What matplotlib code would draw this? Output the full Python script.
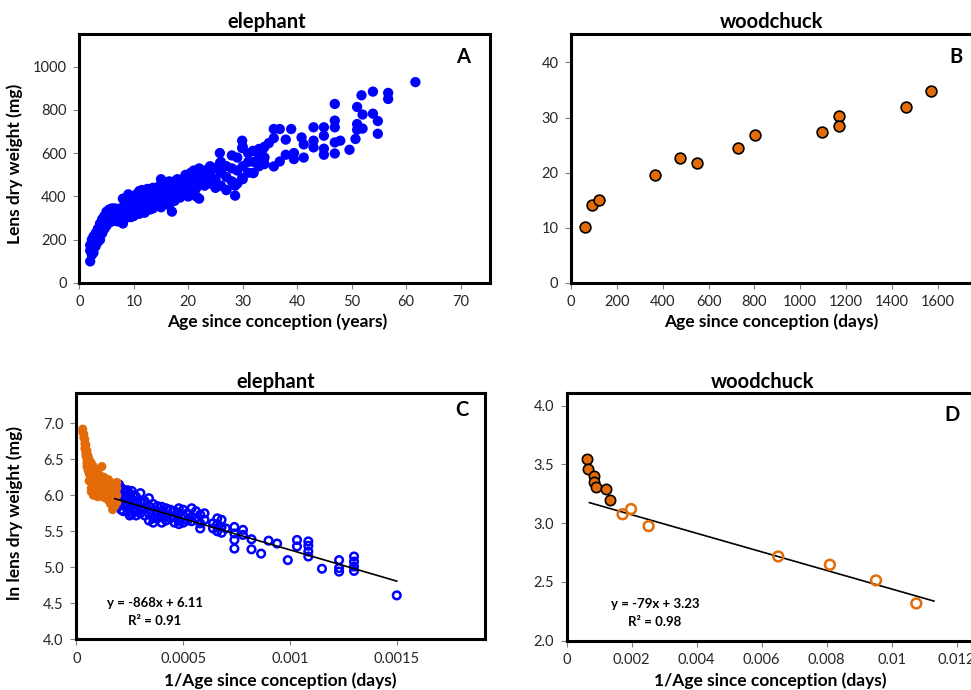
import numpy as np
import matplotlib.pyplot as plt

plt.rcParams['font.family'] = ['Lato', 'DejaVu Sans']

# ---------------- data ----------------
# A: elephant, lens dry weight (mg) vs age (years)
band_age = [2.0, 2.3, 2.6, 3.0, 3.4, 3.8, 4.2, 4.6, 5.0, 5.5, 6.0, 6.5, 7.0, 7.5,
            8.0, 8.5, 9.0, 9.5, 10.0, 10.5, 11.0, 11.5, 12.0, 12.5, 13.0, 13.5,
            14.0, 14.5, 15.0, 15.5, 16.0, 16.5, 17.0, 17.5, 18.0, 18.5, 19.0,
            19.5, 20.0, 20.5, 21.0, 21.5, 22.0, 23.0, 24.0, 25.0, 26.0, 27.0,
            28.0, 29.0, 30.0, 31.0, 32.0, 33.0, 34.0]
band_mg = [[100, 150, 175], [130, 160, 200], [140, 180, 215], [170, 200, 230],
           [190, 225, 250], [200, 245, 275], [230, 260, 295], [250, 285, 310],
           [265, 300, 330], [280, 310, 340], [285, 320, 345], [290, 330, 345],
           [285, 310, 340], [295, 325, 345], [275, 320, 390], [300, 340, 370],
           [320, 355, 410], [305, 345, 385], [310, 360, 400], [330, 370, 410],
           [320, 380, 425], [340, 395, 430], [325, 360, 410], [350, 390, 435],
           [340, 380, 420], [345, 400, 440], [360, 410, 430], [370, 400, 445],
           [350, 420, 480], [380, 430, 460], [400, 440, 465], [360, 420, 470],
           [330, 400, 450], [380, 430, 470], [400, 440, 480], [395, 450, 470],
           [410, 440, 480], [420, 460, 500], [400, 450, 490], [430, 470, 510],
           [410, 460, 520], [400, 440, 500], [390, 470, 530], [450, 490, 520],
           [460, 500, 540], [440, 480, 530], [450, 510, 560], [430, 490, 540],
           [470, 530, 590], [460, 520, 580], [480, 540, 630], [510, 560, 600],
           [510, 560, 610], [540, 590, 620], [550, 580, 630]]
old_age = [61.7, 56.7, 56.7, 53.9, 51.8, 51.0, 52.0, 53.9, 54.8, 54.8, 46.9, 46.9,
           46.9, 46.9, 46.9, 51.0, 51.0, 52.0, 50.7, 49.6, 47.9, 44.9, 44.9, 44.9,
           44.9, 43.0, 43.0, 43.0, 40.8, 41.2, 41.2, 39.4, 39.4, 38.9, 37.9, 37.9,
           36.8, 35.7, 35.7, 35.7, 36.8, 34.8, 33.7, 33.7, 31.9, 31.9, 29.9, 29.9,
           29.9, 28.6, 28.6, 27.0, 25.8, 25.8]
old_mg = [929, 879, 851, 885, 868, 814, 779, 783, 749, 690, 828, 751,
          720, 650, 599, 735, 709, 714, 666, 616, 658, 720, 681, 621,
          593, 720, 658, 627, 673, 641, 580, 601, 573, 712, 663, 593,
          712, 712, 670, 539, 562, 647, 619, 554, 611, 508, 658, 624,
          485, 404, 450, 430, 601, 554]

# B: woodchuck, lens dry weight (mg) vs age (days)
wood_days = [61, 93, 124, 367, 476, 550, 730, 804, 1097, 1169, 1169, 1460, 1571]
wood_mg = [10.1, 14.1, 15.1, 19.6, 22.7, 21.8, 24.5, 26.9, 27.3, 30.2, 28.5, 31.9, 34.9]

# C: elephant, ln weight vs 1/age
c_old_x = [0.00003, 0.000035, 0.00004, 0.000045, 0.00005, 0.000055, 0.00006,
           0.00007, 0.00008, 0.00009, 0.0001, 0.00011, 0.00012, 0.00013,
           0.00014, 0.00015, 0.00016, 0.00017, 0.00018, 0.00019]
c_old_y = [[6.92, 6.88], [6.85, 6.80], [6.78, 6.72, 6.65], [6.70, 6.60, 6.55],
           [6.62, 6.50, 6.45, 6.40], [6.55, 6.45, 6.35], [6.50, 6.40, 6.30, 6.20],
           [6.45, 6.35, 6.25, 6.10, 6.05], [6.40, 6.30, 6.20, 6.05, 6.00],
           [6.35, 6.25, 6.15, 6.02], [6.30, 6.20, 6.10, 6.00, 5.98],
           [6.28, 6.15, 6.05, 5.99], [6.40, 6.22, 6.10, 6.00],
           [6.25, 6.15, 6.05, 5.97], [6.20, 6.10, 6.00],
           [6.22, 6.12, 6.02, 5.93], [6.18, 6.08, 5.98, 5.88],
           [6.15, 6.05, 5.95, 5.80], [6.15, 6.05, 5.95, 5.85],
           [6.18, 6.10, 6.00, 5.90]]
c_young_x = [0.0002, 0.00021, 0.00022, 0.00023, 0.00024, 0.00025, 0.00026,
             0.00027, 0.00028, 0.0003, 0.00032, 0.00034, 0.00036, 0.00038,
             0.0004, 0.00042, 0.00044, 0.00046, 0.00048, 0.0005, 0.00052,
             0.00054, 0.00056, 0.00058, 0.0006, 0.00064, 0.00066, 0.00068,
             0.0007, 0.00074, 0.00078, 0.00082, 0.000865, 0.0009, 0.00094,
             0.00099, 0.001033, 0.001086, 0.00115, 0.00123, 0.0013, 0.0015]
c_young_y = [[6.15, 6.05, 5.95, 5.85], [6.10, 6.00, 5.90, 5.80],
             [6.08, 5.98, 5.88, 5.78], [6.05, 5.95, 5.85],
             [6.07, 5.97, 5.87, 5.77], [6.02, 5.92, 5.82, 5.72],
             [6.06, 5.95, 5.85, 5.74], [6.00, 5.90, 5.80],
             [5.98, 5.88, 5.78, 5.72], [6.03, 5.90, 5.80, 5.75],
             [5.92, 5.82, 5.72], [5.96, 5.85, 5.75, 5.65],
             [5.88, 5.78, 5.68, 5.62], [5.85, 5.75, 5.68],
             [5.84, 5.78, 5.70, 5.62], [5.82, 5.72, 5.65], [5.80, 5.68],
             [5.78, 5.70, 5.62], [5.82, 5.75, 5.65, 5.60], [5.80, 5.72, 5.62],
             [5.75, 5.65], [5.82, 5.70, 5.64], [5.78, 5.68], [5.73, 5.61, 5.54],
             [5.75, 5.66], [5.61, 5.54], [5.68, 5.60, 5.50], [5.66, 5.56, 5.48],
             [5.54], [5.56, 5.47, 5.38, 5.26], [5.52, 5.45], [5.39, 5.25],
             [5.19], [5.37], [5.33], [5.10], [5.38, 5.29],
             [5.36, 5.30, 5.22, 5.15], [4.98], [5.10, 4.99, 4.94],
             [5.15, 5.08, 5.01, 4.95], [4.61]]
c_slope, c_icpt, c_r2 = -868, 6.11, 0.91
c_fit_x = [0.00018, 0.0015]

# D: woodchuck, ln weight vs 1/age
d_old_x = [0.000626, 0.00067, 0.00084, 0.00083, 0.00089, 0.0012, 0.00132]
d_old_y = [3.55, 3.46, 3.405, 3.35, 3.31, 3.29, 3.20]
d_young_x = [0.00172, 0.00198, 0.00252, 0.00651, 0.0081, 0.00952, 0.01076]
d_young_y = [3.076, 3.12, 2.975, 2.717, 2.646, 2.513, 2.317]
d_slope, d_icpt, d_r2 = -79, 3.23, 0.98
d_fit_x = [0.0007, 0.0113]

# ---------------- layout ----------------
W, H = 971, 690
ORANGE = '#E36C09'
BLUE = '#0000FF'

fig = plt.figure(figsize=(W / 100, H / 100), dpi=100)


def panel(l, t, r, b):
    ax = fig.add_axes([l / W, 1 - b / H, (r - l) / W, (b - t) / H])
    for s in ax.spines.values():
        s.set_linewidth(2.2)
        s.set_color('black')
    ax.tick_params(direction='out', length=4, width=0.8, color='#7f7f7f',
                   labelsize=10.5, labelcolor='#262626', pad=5)
    return ax


def ftext(x, y, s, **kw):
    fig.text(x / W, 1 - y / H, s, ha='center', va='center', **kw)


def flat(xs, ys):
    return ([x for x, yy in zip(xs, ys) for _ in yy],
            [v for yy in ys for v in yy])


# A
axA = panel(79.3, 34.3, 489.5, 283)
xA = np.concatenate([np.repeat(band_age, 3), old_age])
yA = np.concatenate([np.ravel(band_mg), old_mg])
axA.scatter(xA, yA, s=55, c=BLUE, edgecolors='none')
axA.set_xlim(0, 75.3)
axA.set_ylim(0, 1150)
axA.set_xticks(range(0, 71, 10))
axA.set_yticks(range(0, 1001, 200))

# B
axB = panel(571, 34.3, 983.6, 283)
axB.scatter(wood_days, wood_mg, s=60, c=ORANGE, edgecolors='black', linewidths=1.2, zorder=3)
axB.set_xlim(0, 1800)
axB.set_ylim(0, 45.1)
axB.set_xticks(range(0, 1601, 200))
axB.set_yticks(range(0, 41, 10))

# C
axC = panel(76.3, 393.3, 485, 639.3)
cx, cy = flat(c_young_x, c_young_y)
axC.scatter(cx, cy, s=30, facecolors='none', edgecolors=BLUE, linewidths=1.8, zorder=2)
ox, oy = flat(c_old_x, c_old_y)
axC.scatter(ox, oy, s=42, c=ORANGE, edgecolors='none', zorder=3)
fx = np.array(c_fit_x)
axC.plot(fx, c_slope * fx + c_icpt, color='black', lw=1.2, zorder=4)
axC.set_xlim(0, 0.001913)
axC.set_ylim(4.0, 7.417)
axC.set_xticks([0, 0.0005, 0.001, 0.0015])
axC.set_xticklabels(['0', '0.0005', '0.001', '0.0015'])
axC.set_yticks(np.arange(4.0, 7.01, 0.5))
axC.set_yticklabels([f'{v:.1f}' for v in np.arange(4.0, 7.01, 0.5)])

# D
axD = panel(566.7, 393.3, 1021.6, 640.7)
axD.scatter(d_old_x, d_old_y, s=55, c=ORANGE, edgecolors='black', linewidths=1.2, zorder=3)
axD.scatter(d_young_x, d_young_y, s=50, facecolors='none', edgecolors=ORANGE, linewidths=1.8, zorder=3)
gx = np.array(d_fit_x)
axD.plot(gx, d_slope * gx + d_icpt, color='black', lw=1.2, zorder=2)
axD.set_xlim(0, 0.014)
axD.set_ylim(2.0, 4.105)
dticks = [0, 0.002, 0.004, 0.006, 0.008, 0.01, 0.012]
axD.set_xticks(dticks)
axD.set_xticklabels(['0', '0.002', '0.004', '0.006', '0.008', '0.01', '0.012'])
axD.set_yticks(np.arange(2.0, 4.01, 0.5))
axD.set_yticklabels([f'{v:.1f}' for v in np.arange(2.0, 4.01, 0.5)])

# titles, axis labels, panel letters
tkw = dict(fontsize=14.5, fontweight='bold')
ftext(267, 22, 'elephant', **tkw)
ftext(772, 22, 'woodchuck', **tkw)
ftext(276, 382, 'elephant', **tkw)
ftext(763, 382, 'woodchuck', **tkw)

lkw = dict(fontsize=12.5, fontweight='bold')
ftext(277, 322, 'Age since conception (years)', **lkw)
ftext(771, 322, 'Age since conception (days)', **lkw)
ftext(280, 681, '1/Age since conception (days)', **lkw)
ftext(770, 681, '1/Age since conception (days)', **lkw)
ftext(15, 164, 'Lens dry weight (mg)', rotation=90, **lkw)
ftext(15, 513, 'ln lens dry weight (mg)', rotation=90, **lkw)

pkw = dict(fontsize=14.5, fontweight='bold')
ftext(463, 57, 'A', **pkw)
ftext(956, 57, 'B', **pkw)
ftext(462, 410, 'C', **pkw)
ftext(952, 415, 'D', **pkw)

ekw = dict(fontsize=9.5, fontweight='bold')
ftext(155, 603, f'y = {c_slope}x + {c_icpt:.2f}', **ekw)
ftext(155, 621, f'R² = {c_r2:.2f}', **ekw)
ftext(655, 604, f'y = {d_slope}x + {d_icpt:.2f}', **ekw)
ftext(655, 622, f'R² = {d_r2:.2f}', **ekw)

fig.savefig('out.png', dpi=100)
